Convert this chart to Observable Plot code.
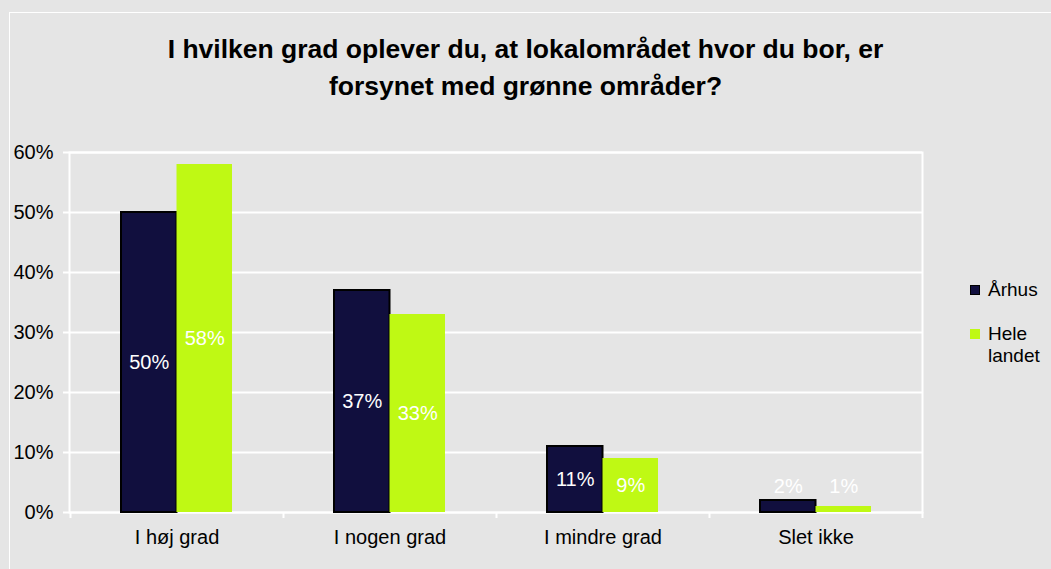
<!DOCTYPE html>
<html><head><meta charset="utf-8">
<script src="https://cdn.jsdelivr.net/npm/d3@7"></script>
<script src="https://cdn.jsdelivr.net/npm/@observablehq/plot@0.6"></script>
<style>
body{margin:0;background:#e5e5e5;font-family:"Liberation Sans",Arial,sans-serif}
#wrap{position:relative;width:1051px;height:569px;background:#e5e5e5;overflow:hidden}
#border{position:absolute;left:9px;top:12px;right:-5px;bottom:-5px;border-left:1px solid #fff;border-top:1px solid #fff}
#chart{position:absolute;left:0;top:0}
#title{position:absolute;left:0;width:1051px;top:31px;text-align:center;font-weight:bold;font-size:26.5px;line-height:37px;color:#000}
.lg{position:absolute;left:970px;font-size:19px;line-height:22px;color:#000}
.sw{position:absolute;width:10px;height:10px}
.lt{position:absolute;left:18px;top:-11px;white-space:nowrap}
</style></head>
<body>
<div id="wrap">
<div id="border"></div>
<div id="chart"></div>
<div id="title">I hvilken grad oplever du, at lokalområdet hvor du bor, er<br>forsynet med grønne områder?</div>
<div id="legend"></div>
</div>
<script>
const categories = ["I høj grad", "I nogen grad", "I mindre grad", "Slet ikke"];
const series = ["Århus", "Hele landet"];
const aarhus = [50, 37, 11, 2];
const heleLandet = [58, 33, 9, 1];
const yTicks = [0, 10, 20, 30, 40, 50, 60];
const colors = ["#110f3e", "#bff914"];

const rowsA = categories.map((c, i) => ({category: c, series: series[0], value: aarhus[i]}));
const rowsH = categories.map((c, i) => ({category: c, series: series[1], value: heleLandet[i]}));
const labelY = d => Math.max(d.value / 2, 4.3);
const fmt = d => d + "%";

const chart = Plot.plot({
  width: 1051,
  height: 569,
  marginLeft: 69,
  marginRight: 129,
  marginTop: 152,
  marginBottom: 57,
  style: {background: "transparent", fontFamily: "'Liberation Sans', Arial, sans-serif", fontSize: "20px", color: "#000"},
  x: {domain: categories, paddingInner: 0.479, paddingOuter: 0.2395, label: null},
  y: {domain: [0, 60], label: null},
  marks: [
    Plot.gridY(yTicks, {stroke: "#fff", strokeOpacity: 1, strokeWidth: 2}),
    Plot.frame({stroke: "#fff", strokeWidth: 2}),
    Plot.ruleX(categories, {x: d => d, dx: -106.5, y1: 0, y2: -1, stroke: "#fff", strokeWidth: 2}),
    Plot.ruleX(categories.slice(-1), {x: d => d, dx: 106.5, y1: 0, y2: -1, stroke: "#fff", strokeWidth: 2}),
    Plot.barY(rowsA, {x: "category", y: "value", fill: colors[0], stroke: "#000", strokeWidth: 2, insetRight: 55.5}),
    Plot.barY(rowsH, {x: "category", y: "value", fill: colors[1], insetLeft: 55.5}),
    Plot.text(rowsA, {x: "category", y: labelY, text: d => fmt(d.value), dx: -27.75, fill: "#fff", fontSize: 20}),
    Plot.text(rowsH, {x: "category", y: labelY, text: d => fmt(d.value), dx: 27.75, fill: "#fff", fontSize: 20}),
    Plot.axisY(yTicks, {tickSize: 6, tickPadding: 10, stroke: "#fff", strokeWidth: 2, fill: "#000", tickFormat: fmt, fontSize: 20, label: null}),
    Plot.axisX({tickSize: 0, tickPadding: 17, fill: "#000", fontSize: 20, label: null})
  ]
});
document.getElementById("chart").appendChild(chart);

const legend = document.getElementById("legend");
const legendTops = [290, 334];
series.forEach((s, i) => {
  const item = document.createElement("div");
  item.className = "lg";
  item.style.top = legendTops[i] + "px";
  const sw = document.createElement("div");
  sw.className = "sw";
  sw.style.background = colors[i];
  sw.style.top = "-5px";
  sw.style.left = "0px";
  if (i === 0) { sw.style.border = "1.5px solid #000"; sw.style.width = "8px"; sw.style.height = "8px"; }
  const t = document.createElement("div");
  t.className = "lt";
  t.innerHTML = s === "Hele landet" ? "Hele<br>landet" : s;
  item.appendChild(sw);
  item.appendChild(t);
  legend.appendChild(item);
});
</script>
</body></html>
